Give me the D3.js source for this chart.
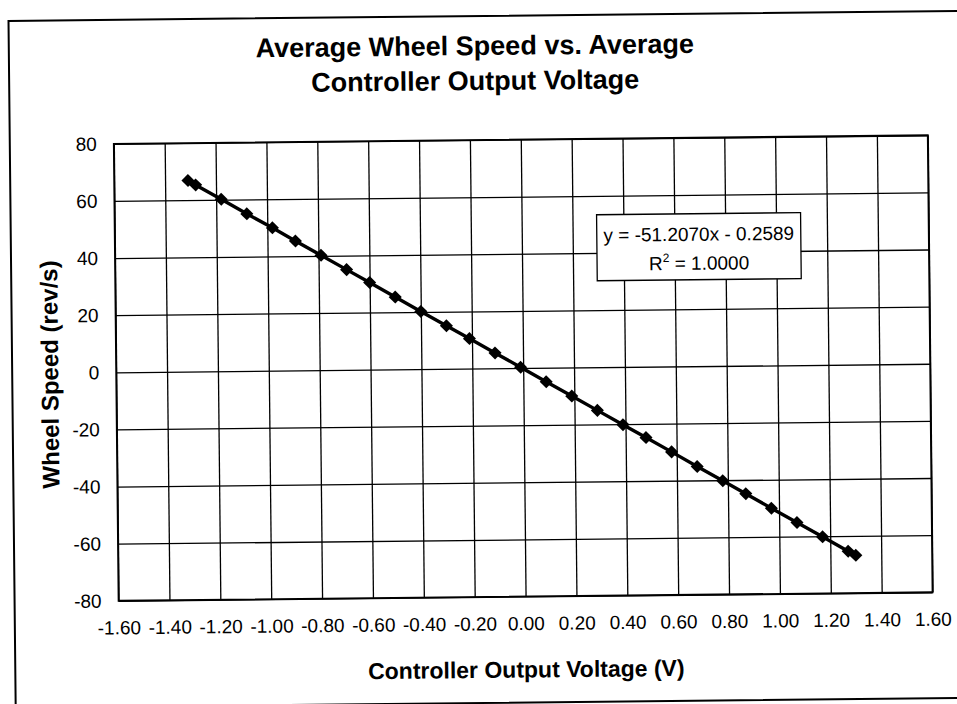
<!DOCTYPE html>
<html>
<head>
<meta charset="utf-8">
<title>Average Wheel Speed vs. Average Controller Output Voltage</title>
<script src="https://cdn.jsdelivr.net/npm/d3@7"></script>
<style>
    body { margin: 0; background: #fff; }
    svg { display: block; font-family: "Liberation Sans", Arial, sans-serif; }
    .grid line { stroke: #000; stroke-width: 1.3px; }
</style>
</head>
<body>
<script>

//values
var voltage = [-1.31, -1.28, -1.18, -1.08, -0.98, -0.89, -0.79, -0.69, -0.60, -0.50, -0.40, -0.30, -0.21, -0.11, -0.01,
    0.09, 0.19, 0.29, 0.39, 0.48, 0.58, 0.68, 0.78, 0.87, 0.97, 1.07, 1.17, 1.27, 1.30];
var wheelSpeed = [66.9, 65.3, 60.2, 55.0, 50.0, 45.3, 40.2, 35.1, 30.5, 25.3, 20.2, 15.1, 10.5, 5.4, 0.3,
    -4.9, -10.0, -15.1, -20.2, -24.8, -29.9, -35.1, -40.2, -44.8, -50.0, -55.1, -60.2, -65.3, -66.8];

//tick labels
var xTicks = [-1.6, -1.4, -1.2, -1.0, -0.8, -0.6, -0.4, -0.2, 0, 0.2, 0.4, 0.6, 0.8, 1.0, 1.2, 1.4, 1.6];
var yTicks = [-80, -60, -40, -20, 0, 20, 40, 60, 80];

//text
var titleLines = ["Average Wheel Speed vs. Average", "Controller Output Voltage"];
var xTitle = "Controller Output Voltage (V)";
var yTitle = "Wheel Speed (rev/s)";
var fitEquation = "y = -51.2070x - 0.2589";
var fitR2 = "1.0000";

window.onload = setChart();

function setChart(){

    var width = 957,
        height = 704;

    //plot area
    var left = 116, right = 930, top = 140, bottom = 597;

    var svg = d3.select("body")
        .append("svg")
        .attr("width", width)
        .attr("height", height);

    //the scanned page is a little tilted
    var page = svg.append("g")
        .attr("transform", "rotate(-0.6 478 352)");

    //outer frame
    page.append("rect")
        .attr("x", 12)
        .attr("y", 16)
        .attr("width", 980)
        .attr("height", 687)
        .attr("fill", "none")
        .attr("stroke", "#000")
        .attr("stroke-width", 2);

    var x = d3.scaleLinear().domain([-1.6, 1.6]).range([left, right]);
    var y = d3.scaleLinear().domain([-80, 80]).range([bottom, top]);

    //title
    page.append("text")
        .attr("text-anchor", "middle")
        .style("font-size", "27px")
        .style("font-weight", "bold")
        .selectAll("tspan")
        .data(titleLines)
        .enter()
        .append("tspan")
        .attr("x", 478)
        .attr("y", function(d, i){ return 55 + i * 35; })
        .text(function(d){ return d; });

    //vertical grid + x tick labels
    var xAxis = page.append("g")
        .attr("class", "grid")
        .attr("transform", "translate(0," + bottom + ")")
        .call(d3.axisBottom(x)
            .tickValues(xTicks)
            .tickSizeInner(-(bottom - top))
            .tickSizeOuter(0)
            .tickPadding(20)
            .tickFormat(function(d){ return d.toFixed(2); }));
    xAxis.select(".domain").remove();
    xAxis.attr("font-family", null).attr("font-size", null);
    xAxis.selectAll("text").style("font-size", "19px").attr("fill", "#000");

    //horizontal grid + y tick labels
    var yAxis = page.append("g")
        .attr("class", "grid")
        .attr("transform", "translate(" + left + ",0)")
        .call(d3.axisLeft(y)
            .tickValues(yTicks)
            .tickSizeInner(-(right - left))
            .tickSizeOuter(0)
            .tickPadding(17)
            .tickFormat(function(d){ return String(d); }));
    yAxis.select(".domain").remove();
    yAxis.attr("font-family", null).attr("font-size", null);
    yAxis.selectAll("text").style("font-size", "19px").attr("fill", "#000");

    //plot border
    page.append("rect")
        .attr("x", left)
        .attr("y", top)
        .attr("width", right - left)
        .attr("height", bottom - top)
        .attr("fill", "none")
        .attr("stroke", "#000")
        .attr("stroke-width", 1.8);

    //axis titles
    page.append("text")
        .attr("x", 523)
        .attr("y", 678)
        .attr("text-anchor", "middle")
        .style("font-size", "23px")
        .style("font-weight", "bold")
        .text(xTitle);

    page.append("text")
        .attr("transform", "translate(58,370) rotate(-90)")
        .attr("text-anchor", "middle")
        .style("font-size", "24px")
        .style("font-weight", "bold")
        .text(yTitle);

    //data line and markers
    var points = voltage.map(function(v, i){ return [v, wheelSpeed[i]]; });

    var line = d3.line()
        .x(function(d){ return x(d[0]); })
        .y(function(d){ return y(d[1]); });

    page.append("path")
        .datum(points)
        .attr("d", line)
        .attr("fill", "none")
        .attr("stroke", "#000")
        .attr("stroke-width", 3.4);

    page.selectAll(".marker")
        .data(points)
        .enter()
        .append("path")
        .attr("class", "marker")
        .attr("d", d3.symbol(d3.symbolSquare).size(85))
        .attr("transform", function(d){
            return "translate(" + x(d[0]) + "," + y(d[1]) + ") rotate(45)";
        })
        .attr("fill", "#000");

    //trendline label
    var label = page.append("g");
    label.append("rect")
        .attr("x", 598)
        .attr("y", 216)
        .attr("width", 204)
        .attr("height", 66)
        .attr("fill", "#fff")
        .attr("stroke", "#000")
        .attr("stroke-width", 1.3);
    label.append("text")
        .attr("x", 700)
        .attr("y", 243)
        .attr("text-anchor", "middle")
        .style("font-size", "19px")
        .text(fitEquation);
    var r2 = label.append("text")
        .attr("x", 700)
        .attr("y", 272)
        .attr("text-anchor", "middle")
        .style("font-size", "19px");
    r2.append("tspan").text("R");
    r2.append("tspan").attr("dy", -8).style("font-size", "12px").text("2");
    r2.append("tspan").attr("dy", 8).text(" = " + fitR2);
};
</script>
</body>
</html>
